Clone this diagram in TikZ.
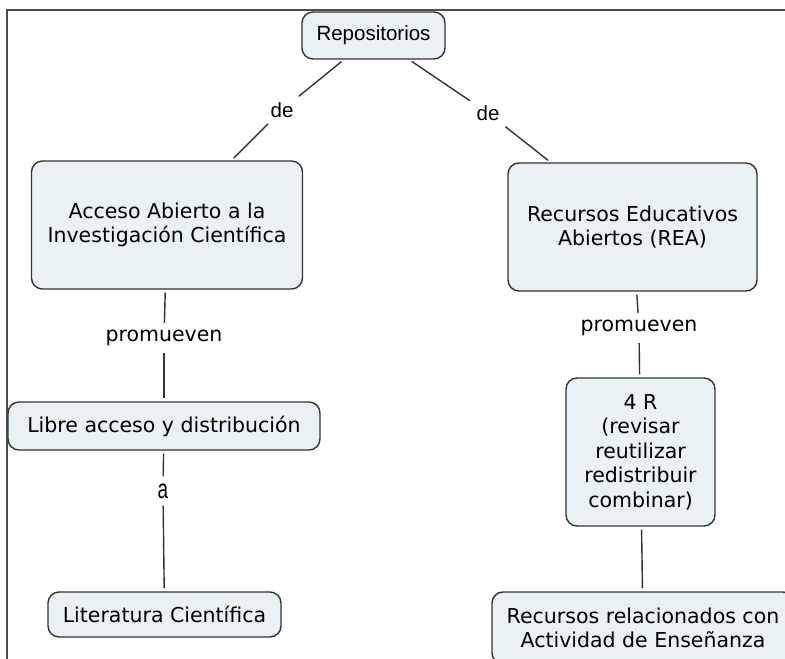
\documentclass[tikz,border=0pt]{standalone}
\usepackage{fontspec}
\setmainfont{DejaVu Sans}
\newfontfamily\arialfont{Liberation Sans}
\newcommand\cmapsize{\fontsize{20.5bp}{24.5bp}\selectfont}
\definecolor{cmapfill}{RGB}{233,241,244}
\definecolor{cmapline}{RGB}{51,51,51}

\begin{document}
\begin{tikzpicture}[
  x=1bp, y=-1bp,
  font=\cmapsize,
  concept/.style ={rectangle, rounded corners=11bp, draw=cmapline, fill=cmapfill, line width=1.4bp, align=center, inner sep=0pt},
  linkword/.style={inner sep=4bp},
  link/.style    ={draw=cmapline, line width=1.4bp, shorten <=3bp, shorten >=3bp},
  frame/.style   ={draw=black!70, line width=1.4bp}
]
\useasboundingbox (0,0) rectangle (785,659);

% ---- page frame (only top and left edges show) -----------------------------
\draw[frame] (785,10) -- (7,10) -- (7,659);

% ---- Concepts ----------------------------------------------------------------
\node[concept, minimum width=143bp, minimum height=47bp, font=\arialfont\cmapsize] (repo) at (373.5,35.5) {Repositorios};

\node[concept, minimum width=271bp, minimum height=128bp] (acceso) at (167,225) {Acceso Abierto a la\\Investigación Científica};
\node[concept, minimum width=249bp, minimum height=128bp] (rea) at (632.5,227) {Recursos Educativos\\Abiertos (REA)};

\node[concept, minimum width=312bp, minimum height=48bp] (libre) at (164,426) {Libre acceso y distribución};
\node[concept, minimum width=233bp, minimum height=45bp] (lit) at (164.5,614.5) {Literatura Científica};

\node[concept, minimum width=149bp, minimum height=148bp] (fourr) at (640.5,452) {4 R\\(revisar\\reutilizar\\redistribuir\\combinar)};
\node[concept, minimum width=302bp, minimum height=72bp] (rec) at (643,628) {Recursos relacionados con\\Actividad de Enseñanza};

% ---- Linking words -----------------------------------------------------------
\node[linkword, font=\arialfont\cmapsize] (de1) at (282,110) {de};
\node[linkword, font=\arialfont\cmapsize] (de2) at (488,113) {de};
\node[linkword] (prom1) at (164,338) {promueven};
\node[linkword] (prom2) at (639,328) {promueven};
\node[linkword, font=\arialfont\fontsize{27bp}{30bp}\selectfont] (a1) at (163,491) {\scalebox{0.7}[1]{a}};

% ---- Links -------------------------------------------------------------------
\draw[link] (repo) -- (de1);
\draw[link] (de1) -- (acceso);
\draw[link] (repo) -- (de2);
\draw[link] (de2) -- (rea);

\draw[link] (acceso) -- (prom1);
\draw[link] (prom1) -- (libre);
\draw[link] (libre) -- (a1);
\draw[link] (a1) -- (lit);

\draw[link] (rea) -- (prom2);
\draw[link] (prom2) -- (fourr);
\draw[link] (fourr) -- (rec);

\end{tikzpicture}
\end{document}
